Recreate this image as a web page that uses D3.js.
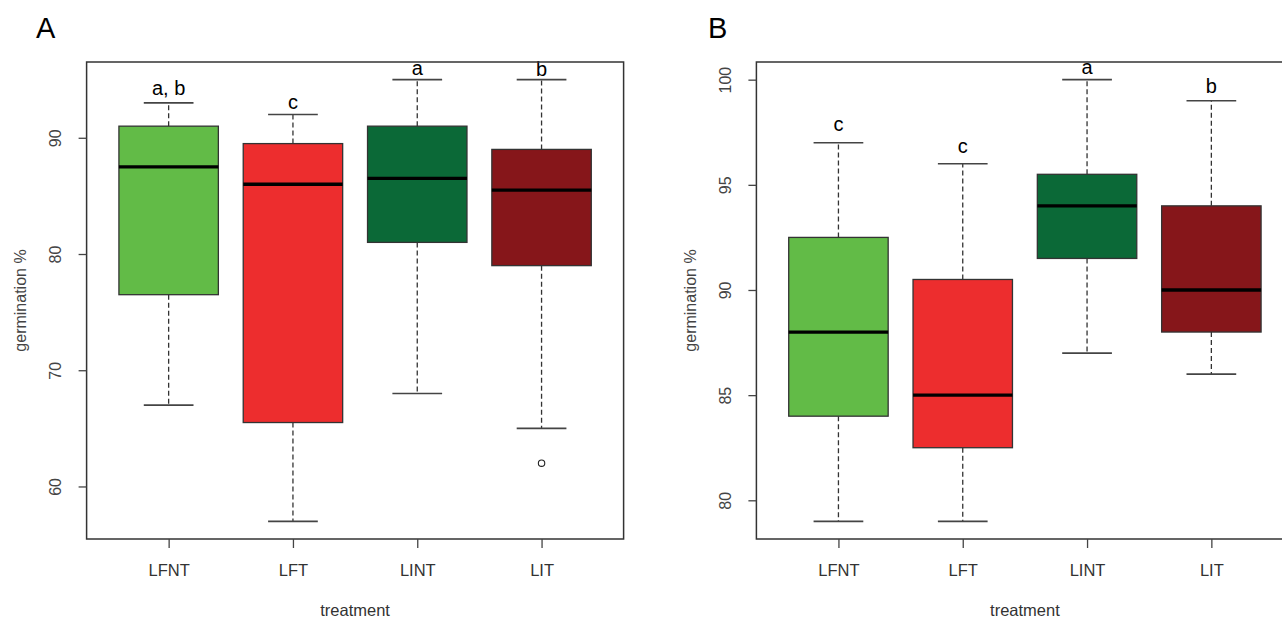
<!DOCTYPE html>
<html>
<head>
<meta charset="utf-8">
<script src="https://cdn.jsdelivr.net/npm/d3@7"></script>
<style>
  body { margin: 0; background: #fff; }
  svg { display: block; font-family: "Liberation Sans", Arial, sans-serif; }
</style>
</head>
<body>
<svg id="chart" width="1282" height="618"></svg>
<script>
// categories and colours
const treatments = ["LFNT", "LFT", "LINT", "LIT"];
const boxColors = ["#62bb47", "#ed2d2e", "#0b6937", "#86161a"];

// panel A: five-number summaries
const lowA = [67, 57, 68, 65];
const q1A = [76.5, 65.5, 81, 79];
const medA = [87.5, 86, 86.5, 85.5];
const q3A = [91, 89.5, 91, 89];
const highA = [93, 92, 95, 95];
const outA = [[], [], [], [62]];
const lettersA = ["a, b", "c", "a", "b"];
const letterYA = [93.7, 92.5, 95.4, 95.3];
const ticksA = [60, 70, 80, 90];

// panel B
const lowB = [79, 79, 87, 86];
const q1B = [84, 82.5, 91.5, 88];
const medB = [88, 85, 94, 90];
const q3B = [92.5, 90.5, 95.5, 94];
const highB = [97, 96, 100, 99];
const outB = [[], [], [], []];
const lettersB = ["c", "c", "a", "b"];
const letterYB = [97.55, 96.5, 100.25, 99.35];
const ticksB = [80, 85, 90, 95, 100];

const svg = d3.select("#chart");

function panel(opt) {
    let left = opt.left, top = 62, w = 537, h = 477;
    let g = svg.append("g");

    // R style: data range padded by 4%
    let lo = d3.min([d3.min(opt.low), d3.min(opt.out.flat().concat([Infinity]))]);
    let hi = d3.max(opt.high);
    let pad = (hi - lo) * 0.04;
    let y = d3.scaleLinear().domain([lo - pad, hi + pad]).range([top + h, top]);
    let x = d3.scaleLinear().domain([0.34, 4.66]).range([left, left + w]);
    let u = x(1) - x(0);

    let boxes = g.selectAll("g.box").data(treatments).enter()
        .append("g").attr("class", "box");

    // whiskers
    boxes.append("line")
        .attr("x1", (d, i) => x(i + 1)).attr("x2", (d, i) => x(i + 1))
        .attr("y1", (d, i) => y(opt.q3[i])).attr("y2", (d, i) => y(opt.high[i]))
        .attr("stroke", "#333").attr("stroke-width", 1.3).attr("stroke-dasharray", "5,3");
    boxes.append("line")
        .attr("x1", (d, i) => x(i + 1)).attr("x2", (d, i) => x(i + 1))
        .attr("y1", (d, i) => y(opt.q1[i])).attr("y2", (d, i) => y(opt.low[i]))
        .attr("stroke", "#333").attr("stroke-width", 1.3).attr("stroke-dasharray", "5,3");
    // caps
    [opt.high, opt.low].forEach(arr => {
        boxes.append("line")
            .attr("x1", (d, i) => x(i + 1) - 0.2 * u).attr("x2", (d, i) => x(i + 1) + 0.2 * u)
            .attr("y1", (d, i) => y(arr[i])).attr("y2", (d, i) => y(arr[i]))
            .attr("stroke", "#444").attr("stroke-width", 1.6);
    });
    // boxes
    boxes.append("rect")
        .attr("x", (d, i) => x(i + 1) - 0.4 * u)
        .attr("width", 0.8 * u)
        .attr("y", (d, i) => y(opt.q3[i]))
        .attr("height", (d, i) => y(opt.q1[i]) - y(opt.q3[i]))
        .attr("fill", (d, i) => boxColors[i])
        .attr("stroke", "#333").attr("stroke-width", 1.3);
    // medians
    boxes.append("line")
        .attr("x1", (d, i) => x(i + 1) - 0.4 * u).attr("x2", (d, i) => x(i + 1) + 0.4 * u)
        .attr("y1", (d, i) => y(opt.med[i])).attr("y2", (d, i) => y(opt.med[i]))
        .attr("stroke", "#000").attr("stroke-width", 3.3);
    // outliers
    boxes.each(function(d, i) {
        d3.select(this).selectAll("circle").data(opt.out[i]).enter()
            .append("circle")
            .attr("cx", x(i + 1)).attr("cy", v => y(v)).attr("r", 3.2)
            .attr("fill", "none").attr("stroke", "#222").attr("stroke-width", 1.1);
    });
    // significance letters
    boxes.append("text")
        .attr("x", (d, i) => x(i + 1))
        .attr("y", (d, i) => y(opt.letterY[i]))
        .attr("text-anchor", "middle")
        .attr("font-size", 20).attr("fill", "#000")
        .text((d, i) => opt.letters[i]);

    // frame
    g.append("rect")
        .attr("x", left).attr("y", top).attr("width", w).attr("height", h)
        .attr("fill", "none").attr("stroke", "#333").attr("stroke-width", 1.5);

    // y axis
    let ya = g.append("g").attr("transform", "translate(" + left + ",0)")
        .call(d3.axisLeft(y).tickValues(opt.ticks).tickSize(8).tickFormat(d3.format("d")));
    ya.select(".domain").remove();
    ya.selectAll(".tick line").attr("stroke", "#444").attr("stroke-width", 1.3);
    ya.selectAll(".tick text")
        .attr("x", 0).attr("y", 0).attr("dy", 0)
        .attr("transform", "translate(-25.5,0) rotate(-90)")
        .attr("text-anchor", "middle")
        .attr("font-size", 16).attr("fill", "#444");

    // x axis
    let xa = g.append("g").attr("transform", "translate(0," + (top + h) + ")")
        .call(d3.axisBottom(x).tickValues([1, 2, 3, 4]).tickSize(9)
            .tickFormat(d => treatments[d - 1]));
    xa.select(".domain").remove();
    xa.selectAll(".tick line").attr("stroke", "#444").attr("stroke-width", 1.3);
    xa.selectAll(".tick text")
        .attr("y", 37).attr("dy", 0)
        .attr("font-size", 16.5).attr("fill", "#333");

    // axis titles
    g.append("text")
        .attr("transform", "translate(" + (left - 60.5) + "," + (top + h / 2) + ") rotate(-90)")
        .attr("text-anchor", "middle").attr("font-size", 16).attr("fill", "#444")
        .text("germination %");
    g.append("text")
        .attr("x", left + w / 2).attr("y", 616)
        .attr("text-anchor", "middle").attr("font-size", 16.5).attr("fill", "#333")
        .text("treatment");

    // panel letter
    svg.append("text")
        .attr("x", opt.tagX).attr("y", 38)
        .attr("font-size", 29).attr("fill", "#000")
        .text(opt.tag);
}

panel({left: 86.6, tag: "A", tagX: 36, low: lowA, q1: q1A, med: medA, q3: q3A, high: highA,
       out: outA, letters: lettersA, letterY: letterYA, ticks: ticksA});
panel({left: 756.4, tag: "B", tagX: 708, low: lowB, q1: q1B, med: medB, q3: q3B, high: highB,
       out: outB, letters: lettersB, letterY: letterYB, ticks: ticksB});
</script>
</body>
</html>
